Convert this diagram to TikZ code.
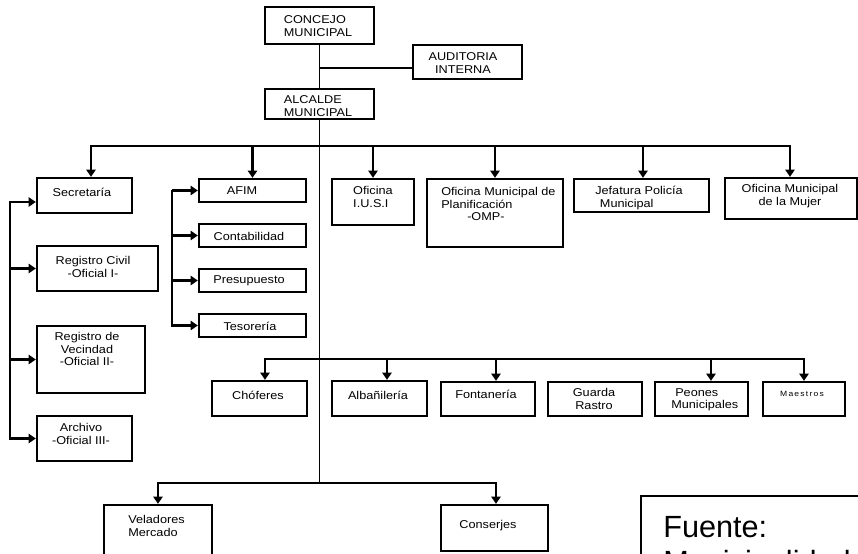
\documentclass[tikz,border=0pt]{standalone}
\usepackage{fontspec}
\setmainfont[FakeStretch=1.12]{Liberation Sans}
\newfontfamily\fuentefont{Liberation Sans}
\usetikzlibrary{arrows.meta,fit}
\begin{document}
\begin{tikzpicture}[x=0.75pt,y=-0.75pt,
  box/.style={draw, line width=1.7pt, inner sep=0pt},
  lbl/.style={font=\fontsize{8.5}{9.4}\selectfont, inner sep=0pt, align=center},
  spine/.style={line width=1.1pt},
  con/.style={line width=1.6pt, line cap=rect},
  arr/.style={line width=1.6pt, -{Triangle[width=7pt,length=5.5pt]}}]
\useasboundingbox (0,0) rectangle (858,554);
\clip (0,0) rectangle (858,554);
\fill[white] (0,0) rectangle (858,554);
% boxes
\node[box, fit={(265,7) (374,44)}] (concejo) {};
\node[box, fit={(413,45) (522,79)}] (auditoria) {};
\node[box, fit={(265,89) (374,119)}] (alcalde) {};
\node[box, fit={(37,178) (132,213)}] (secretaria) {};
\node[box, fit={(37,246) (158,291)}] (regcivil) {};
\node[box, fit={(37,326) (145,393)}] (regvec) {};
\node[box, fit={(37,416) (132,461)}] (archivo) {};
\node[box, fit={(199,179) (306,202)}] (afim) {};
\node[box, fit={(199,224) (306,247)}] (conta) {};
\node[box, fit={(199,269) (306,292)}] (presu) {};
\node[box, fit={(199,314) (306,337)}] (teso) {};
\node[box, fit={(332,179) (414,225)}] (iusi) {};
\node[box, fit={(427,179) (563,247)}] (omp) {};
\node[box, fit={(574,179) (709,212)}] (jefatura) {};
\node[box, fit={(725,178) (857,219)}] (mujer) {};
\node[box, fit={(212,381) (307,416)}] (chof) {};
\node[box, fit={(332,381) (427,416)}] (alba) {};
\node[box, fit={(441,382) (535,416)}] (fonta) {};
\node[box, fit={(548,382) (642,416)}] (guarda) {};
\node[box, fit={(655,382) (748,416)}] (peones) {};
\node[box, fit={(763,382) (845,416)}] (maestros) {};
\node[box, fit={(104,505) (212,562)}] (veladores) {};
\node[box, fit={(441,505) (548,551)}] (conserjes) {};
\node[box, line width=1.4pt, fit={(641,496) (900,620)}] (fuente) {};
% texts
\node[lbl, align=left] (tconcejo) at (318,26) {CONCEJO\\MUNICIPAL};
\node[lbl] (tauditoria) at (463,63) {AUDITORIA\\INTERNA};
\node[lbl, align=left] (talcalde) at (318,106) {ALCALDE\\MUNICIPAL};
\node[lbl] (tsecretaria) at (82,192) {Secretaría};
\node[lbl] (tregcivil) at (93,267) {Registro Civil\\-Oficial I-};
\node[lbl] (tregvec) at (87,349) {Registro de\\Vecindad\\-Oficial II-};
\node[lbl] (tarchivo) at (81,434) {Archivo\\-Oficial III-};
\node[lbl] (tafim) at (242,191) {AFIM};
\node[lbl] (tconta) at (249,236) {Contabilidad};
\node[lbl] (tpresu) at (249,281) {Presupuesto};
\node[lbl] (tteso) at (250,326) {Tesorería};
\node[lbl, align=left] (tiusi) at (373,197) {Oficina\\I.U.S.I};
\node[lbl, align=left, anchor=west] (tomp) at (441,204) {Oficina Municipal de\\Planificación\\\hspace*{19.5pt}-OMP-};
\node[lbl, align=left, anchor=west] (tjefatura) at (595,198) {Jefatura Policía\\\hspace*{3.5pt}Municipal};
\node[lbl] (tmujer) at (790,196) {Oficina Municipal\\de la Mujer};
\node[lbl] (tchof) at (258,395) {Chóferes};
\node[lbl] (talba) at (378,395) {Albañilería};
\node[lbl] (tfonta) at (486,394) {Fontanería};
\node[lbl] (tguarda) at (594,399) {Guarda\\Rastro};
\node[lbl, align=left, anchor=west] (tpeones) at (671,400) {\hspace*{3pt}Peones\\Municipales};
\node[inner sep=0pt, font=\fontsize{5.7}{6}\selectfont\addfontfeature{LetterSpace=16}] (tmaestros) at (802,394) {Maestros};
\node[lbl, align=left, anchor=west] (tveladores) at (128,526) {Veladores\\Mercado};
\node[lbl] (tconserjes) at (488,526) {Conserjes};
\node[inner sep=0pt, anchor=base west, font=\fuentefont\fontsize{23}{26}\selectfont] (tfuente1) at (663,537) {Fuente:};
\node[inner sep=0pt, anchor=base west, font=\fuentefont\fontsize{23}{26}\selectfont] (tfuente2) at (663,572) {Municipalidad};
% connectors
\draw[spine] (concejo.south) -- (alcalde.north);
\coordinate (audj) at (319.5,68);
\draw[spine] (audj) -- (audj -| auditoria.west);
\coordinate (spend) at (319.5,483);
\draw[spine] (alcalde.south) -- (spend);
% top bus
\coordinate (b1l) at (91,146);
\coordinate (b1r) at (790,146);
\draw[con] (b1l) -- (b1r);
\draw[arr] (b1l) -- (b1l |- secretaria.north);
\draw[arr] (afim.north |- b1l) -- (afim.north);
\draw[arr] (iusi.north |- b1l) -- (iusi.north);
\draw[arr] (omp.north |- b1l) -- (omp.north);
\coordinate (b1j) at (643,146);
\draw[arr] (b1j) -- (b1j |- jefatura.north);
\draw[arr] (b1r) -- (b1r |- mujer.north);
% left bracket
\coordinate (lt) at (10,202);
\draw[con] (lt) -- (lt |- archivo.west);
\draw[arr] (lt) -- (lt -| secretaria.west);
\draw[arr] (lt |- regcivil.west) -- (regcivil.west);
\draw[arr] (lt |- regvec.west) -- (regvec.west);
\draw[arr] (lt |- archivo.west) -- (archivo.west);
% AFIM bracket
\coordinate (at) at (172,191);
\draw[con] (at) -- (at |- teso.west);
\draw[arr] (at |- afim.west) -- (afim.west);
\draw[arr] (at |- conta.west) -- (conta.west);
\draw[arr] (at |- presu.west) -- (presu.west);
\draw[arr] (at |- teso.west) -- (teso.west);
% second bus
\coordinate (b2l) at (265,359);
\coordinate (b2r) at (804,359);
\draw[con] (b2l) -- (b2r);
\draw[arr] (b2l) -- (b2l |- chof.north);
\coordinate (b2a) at (387,359);
\draw[arr] (b2a) -- (b2a |- alba.north);
\coordinate (b2f) at (496,359);
\draw[arr] (b2f) -- (b2f |- fonta.north);
\coordinate (b2p) at (711,359);
\draw[arr] (b2p) -- (b2p |- peones.north);
\draw[arr] (b2r) -- (b2r |- maestros.north);
% bottom bus
\coordinate (b3l) at (158,483);
\coordinate (b3r) at (496,483);
\draw[con] (b3l) -- (b3r);
\draw[arr] (b3l) -- (veladores.north);
\draw[arr] (b3r) -- (b3r |- conserjes.north);
\end{tikzpicture}
\end{document}
